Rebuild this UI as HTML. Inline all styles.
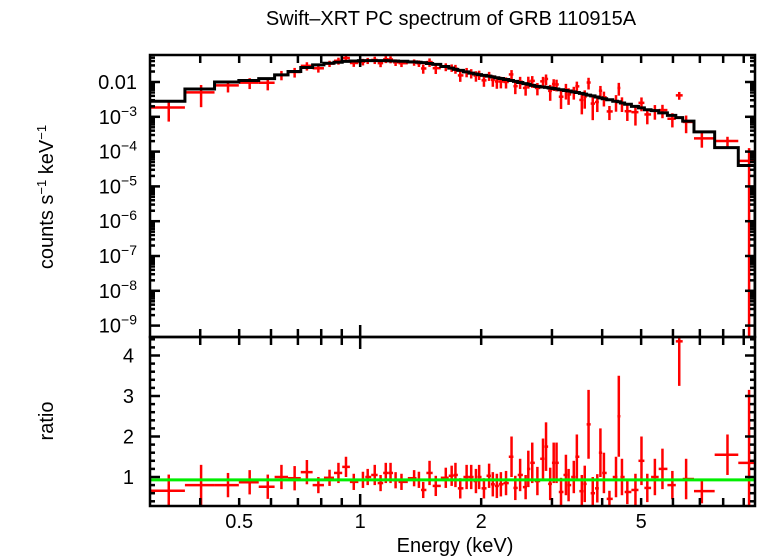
<!DOCTYPE html>
<html><head><meta charset="utf-8"><style>
body{margin:0;background:#fff;}
svg{display:block;font-family:"Liberation Sans",sans-serif;}
</style></head><body>
<svg id="chart" width="758" height="556" viewBox="0 0 758 556" xmlns="http://www.w3.org/2000/svg">
<rect width="758" height="556" fill="#fff"/>
<text x="451" y="25" font-size="20" text-anchor="middle">Swift–XRT PC spectrum of GRB 110915A</text>
<text transform="translate(53,197) rotate(-90)" font-size="20" text-anchor="middle">counts s<tspan dy="-7" font-size="13">−1</tspan><tspan dy="7"> keV</tspan><tspan dy="-7" font-size="13">−1</tspan></text>
<text transform="translate(53,421) rotate(-90)" font-size="20" text-anchor="middle">ratio</text>
<text x="455" y="552" font-size="20" text-anchor="middle">Energy (keV)</text>
<g id="g"></g>
</svg>
<script>
const binE=[0.334,0.402,0.469,0.531,0.589,0.637,0.687,0.737,0.787,0.839,0.883,0.922,0.964,1.016,1.044,1.087,1.124,1.158,1.19,1.225,1.267,1.362,1.40,1.435,1.488,1.542,1.633,1.689,1.726,1.774,1.84,1.889,1.941,1.977,2.032,2.093,2.138,2.188,2.239,2.306,2.38,2.432,2.50,2.58,2.62,2.68,2.76,2.85,2.90,2.97,3.03,3.08,3.16,3.25,3.30,3.40,3.46,3.56,3.62,3.70,3.79,3.89,3.96,4.04,4.17,4.33,4.40,4.48,4.62,4.84,5.01,5.18,5.41,5.65,5.98,6.22,6.47,7.08,8.20,9.28];
const ratio=[0.66,0.8,0.8,0.87,0.76,1.0,0.97,1.12,0.8,0.98,1.1,1.25,0.88,0.93,1.0,1.05,0.85,1.1,1.1,0.92,0.88,0.97,0.93,0.68,1.1,0.78,0.98,1.03,1.05,0.72,1.0,1.0,0.9,1.0,0.72,1.03,0.82,0.78,0.82,0.85,1.5,0.73,1.05,0.75,1.2,1.35,0.9,1.45,1.75,0.83,1.35,1.35,0.63,1.05,0.8,1.0,1.5,0.65,0.83,2.3,0.6,0.72,1.6,1.1,0.46,1.0,2.5,1.0,0.63,0.68,1.4,0.73,1.0,1.2,0.8,4.35,0.95,0.65,1.55,1.35];
const ratioErr=[0.4,0.5,0.3,0.3,0.3,0.3,0.3,0.3,0.2,0.2,0.25,0.25,0.2,0.2,0.2,0.25,0.2,0.25,0.25,0.2,0.2,0.2,0.2,0.2,0.3,0.25,0.25,0.25,0.3,0.25,0.3,0.3,0.3,0.3,0.25,0.3,0.3,0.3,0.3,0.3,0.5,0.3,0.4,0.3,0.45,0.5,0.35,0.5,0.6,0.4,0.5,0.5,0.35,0.5,0.4,0.4,0.55,0.4,0.45,0.85,0.4,0.35,0.6,0.5,0.2,0.5,1.0,0.45,0.3,0.4,0.6,0.35,0.45,0.5,0.35,1.1,0.5,0.3,0.5,1.8];
const model=[0.0028,0.0063,0.0100,0.0110,0.0125,0.0160,0.0200,0.0260,0.0310,0.0345,0.0370,0.0390,0.0400,0.0410,0.0410,0.0410,0.0410,0.0410,0.0405,0.0400,0.0395,0.0380,0.0370,0.0360,0.0340,0.0320,0.0280,0.0250,0.0230,0.0215,0.0195,0.0180,0.0170,0.0163,0.0155,0.0147,0.0140,0.0133,0.0126,0.0118,0.0110,0.0104,0.0097,0.0090,0.0086,0.0080,0.0075,0.0072,0.0070,0.0067,0.0065,0.0063,0.0060,0.0057,0.0055,0.0052,0.0050,0.0047,0.0045,0.0042,0.0040,0.0037,0.0035,0.0033,0.0031,0.0028,0.0027,0.0025,0.0023,0.0020,0.0018,0.0016,0.0015,0.0013,0.0011,0.00095,0.00075,0.00037,0.00013,0.00004];
const yTickVals=[1e-2,1e-3,1e-4,1e-5,1e-6,1e-7,1e-8,1e-9];
const yTickLabels=["0.01","10|-3","10|-4","10|-5","10|-6","10|-7","10|-8","10|-9"];
const rTickVals=[1,2,3,4];
const xTickLabelVals=[0.5,1,2,5];
const modelRatio=0.93;

const L=150,R=755,T=55,M=337,B=506;
const eMin=0.3,eMax=9.6;
const X=e=>L+(Math.log10(e)-Math.log10(eMin))/(Math.log10(eMax)-Math.log10(eMin))*(R-L);
const Y=v=>82+(-2-Math.log10(v))*34.8;
const YR=r=>477-(r-1)*40.5;
const NS="http://www.w3.org/2000/svg";
const g=document.getElementById('g');
function el(t,a,p){const e=document.createElementNS(NS,t);for(const k in a)e.setAttribute(k,a[k]);(p||g).appendChild(e);return e;}
const n=binE.length;
const lo=[],hi=[];
for(let i=0;i<n;i++){lo.push(i===0?eMin:Math.sqrt(binE[i-1]*binE[i]));hi.push(i===n-1?eMax:Math.sqrt(binE[i]*binE[i+1]));}
const defs=el('defs',{});
const c1=el('clipPath',{id:'c1'},defs);el('rect',{x:L,y:T,width:R-L,height:M-T},c1);
const c2=el('clipPath',{id:'c2'},defs);el('rect',{x:L,y:M,width:R-L,height:B-M},c2);
const topG=el('g',{'clip-path':'url(#c1)'});


const botG=el('g',{'clip-path':'url(#c2)'});


for(let i=0;i<n;i++){
  const v=model[i]*ratio[i],e=model[i]*ratioErr[i];
  const gg=el('g',{stroke:'#ff0000','stroke-width':2.5,fill:'none'},topG);
  
  
  el('line',{x1:X(lo[i]),x2:X(hi[i]),y1:Y(v),y2:Y(v)},gg);
  el('line',{x1:X(binE[i]),x2:X(binE[i]),y1:Y(v+e),y2:Y(Math.max(v-e,1e-12))},gg);
}
let d='';
for(let i=0;i<n;i++){d+=(i===0?'M':'L')+X(lo[i])+' '+Y(model[i])+' L'+X(hi[i])+' '+Y(model[i])+' ';}
d+='L'+X(eMax)+' '+(M+5);
const mp=el('path',{d:d,stroke:'#000','stroke-width':3,fill:'none'},topG);


for(let i=0;i<n;i++){
  const gg=el('g',{stroke:'#ff0000','stroke-width':2.5,fill:'none'},botG);
  
  
  el('line',{x1:X(lo[i]),x2:X(hi[i]),y1:YR(ratio[i]),y2:YR(ratio[i])},gg);
  el('line',{x1:X(binE[i]),x2:X(binE[i]),y1:YR(ratio[i]+ratioErr[i]),y2:YR(ratio[i]-ratioErr[i])},gg);
}
const gl=el('line',{x1:L,x2:R,y1:YR(modelRatio),y2:YR(modelRatio),stroke:'#00ee00','stroke-width':3},botG);


const f1=el('rect',{x:L,y:T,width:R-L,height:M-T,fill:'none',stroke:'#000','stroke-width':2.5});


const f2=el('rect',{x:L,y:M,width:R-L,height:B-M,fill:'none',stroke:'#000','stroke-width':2.5});


const tk=el('g',{stroke:'#000','stroke-width':2.5});


for(let dec=-9;dec<=-1;dec++){for(let m=1;m<10;m++){const v=m*Math.pow(10,dec);const y=Y(v);if(y<T||y>M)continue;const len=m===1?10:5;
 el('line',{x1:L,x2:L+len,y1:y,y2:y},tk);el('line',{x1:R,x2:R-len,y1:y,y2:y},tk);}}
yTickVals.forEach((v,i)=>{const p=yTickLabels[i].split('|');const t=el('text',{x:137,y:Y(v)+7,'font-size':20,'text-anchor':'end'});
 
 
 if(p.length===1)t.textContent=p[0];else{t.textContent=p[0];const s=el('tspan',{dy:-8,'font-size':14},t);s.textContent='−'+p[1].slice(1);}});
for(let r=0.4;r<=4.51;r+=0.2){const y=YR(r);const maj=Math.abs(r-Math.round(r))<0.01;const len=maj?10:5;
 el('line',{x1:L,x2:L+len,y1:y,y2:y},tk);el('line',{x1:R,x2:R-len,y1:y,y2:y},tk);}
rTickVals.forEach(r=>{const t=el('text',{x:134,y:YR(r)+7,'font-size':20,'text-anchor':'end'});t.textContent=r;
 
 });
const xt=[0.4,0.5,0.6,0.7,0.8,0.9,1,2,3,4,5,6,7,8,9];
xt.forEach(e=>{const x=X(e);const len=e===1?12:8;
 [[T,1],[M,-1],[M,1],[B,-1]].forEach(([y0,s])=>el('line',{x1:x,x2:x,y1:y0,y2:y0+s*len},tk));});
xTickLabelVals.forEach(e=>{const t=el('text',{x:X(e),y:528,'font-size':20,'text-anchor':'middle'});t.textContent=e;
 
 });
</script>
</body></html>
